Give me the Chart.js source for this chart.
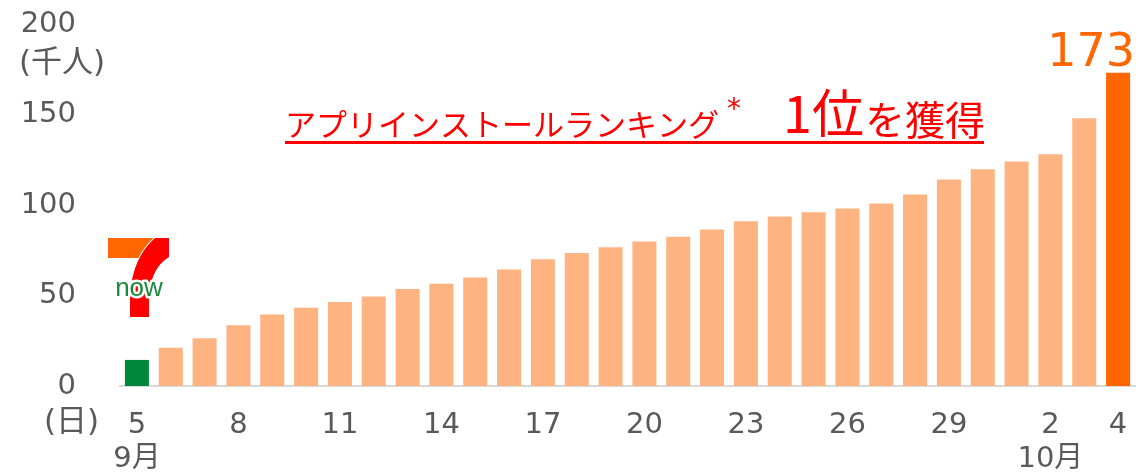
<!DOCTYPE html>
<html>
<head>
<meta charset="utf-8">
<script src="https://cdn.jsdelivr.net/npm/chart.js@4/dist/chart.umd.min.js"></script>
<style>
  body { margin: 0; background: #fff; }
  #wrap { width: 1140px; height: 476px; }
</style>
</head>
<body>
<div id="wrap"><canvas id="c" width="1140" height="476"></canvas></div>
<script>
// daily users (thousand), Sep 5 - Oct 4
const days = ['5', '6', '7', '8', '9', '10', '11', '12', '13', '14', '15', '16', '17', '18', '19',
    '20', '21', '22', '23', '24', '25', '26', '27', '28', '29', '30', '1', '2', '3', '4'];
const users = [14.4, 21.2, 26.4, 33.6, 39.5, 43.2, 46.4, 49.5, 53.6, 56.5, 60.0, 64.4, 70.0, 73.5, 76.6,
    79.8, 82.5, 86.4, 91.0, 93.6, 96.0, 98.1, 100.8, 105.8, 114.1, 119.7, 124.1, 128.0, 147.9, 173];
const monthRow = { 0: '9月', 27: '10月' };
const shownTicks = [0, 3, 6, 9, 12, 15, 18, 21, 24, 27, 29];
const yTicks = [0, 50, 100, 150, 200];

const GRAY = '#595959';
const NUM_FONT = '"DejaVu Sans", "Noto Sans CJK JP", sans-serif';
const JP_FONT = '"Noto Sans CJK JP", sans-serif';

const barColors = users.map((v, i) => {
    if (i === 0) return '#00873C';
    if (i === users.length - 1) return '#FF6600';
    return '#FFB381';
});

// extra texts and the logo
const extras = {
    id: 'extras',
    afterDatasetsDraw(chart) {
        const ctx = chart.ctx;
        ctx.save();

        // unit labels
        ctx.fillStyle = GRAY;
        ctx.textBaseline = 'middle';
        ctx.textAlign = 'left';
        ctx.font = '31px ' + NUM_FONT;
        ctx.fillText('(千人)', 19, 64);
        ctx.fillText('(日)', 44, 423);

        // value on last bar
        const meta = chart.getDatasetMeta(0);
        const last = meta.data[meta.data.length - 1];
        ctx.fillStyle = '#FF6600';
        ctx.textAlign = 'right';
        ctx.textBaseline = 'alphabetic';
        ctx.font = '46px ' + NUM_FONT;
        ctx.fillText(String(users[users.length - 1]), last.x + last.width / 2 + 5, last.y - 7);

        // headline
        ctx.fillStyle = '#FF0000';
        ctx.textAlign = 'left';
        const parts = [
            [285, 136, 'アプリインストールランキング', '31px ' + JP_FONT],
            [727, 118, '*', '28px "DejaVu Sans", sans-serif'],
            [783, 133, '1', '52px ' + JP_FONT],
            [812, 133, '位', '52px ' + JP_FONT],
            [865, 135, 'を獲得', '40px ' + JP_FONT]
        ];
        parts.forEach(([x, y, t, f]) => {
            ctx.font = f;
            ctx.fillText(t, x, y);
        });
        ctx.fillRect(285, 141, 699, 3);

        // 7now logo
        ctx.fillStyle = '#FF6600';
        ctx.fillRect(108, 238, 46, 20);
        ctx.beginPath();
        ctx.moveTo(155, 238);
        ctx.lineTo(169, 238);
        ctx.lineTo(169, 257);
        ctx.quadraticCurveTo(151, 268, 149, 296);
        ctx.lineTo(149, 317);
        ctx.lineTo(130, 317);
        ctx.lineTo(130, 294);
        ctx.quadraticCurveTo(133, 257, 155, 238);
        ctx.closePath();
        ctx.fillStyle = '#FF0000';
        ctx.strokeStyle = '#fff';
        ctx.lineWidth = 2;
        ctx.stroke();
        ctx.fill();
        ctx.font = '26px "Liberation Sans", sans-serif';
        ctx.textAlign = 'center';
        ctx.textBaseline = 'alphabetic';
        ctx.lineWidth = 5;
        ctx.lineJoin = 'round';
        ctx.strokeText('now', 139, 296);
        ctx.fillStyle = '#1A8A3A';
        ctx.fillText('now', 139, 296);

        ctx.restore();
    }
};

new Chart(document.getElementById('c'), {
    type: 'bar',
    data: {
        labels: days,
        datasets: [{
            data: users,
            backgroundColor: barColors,
            borderWidth: 0,
            barPercentage: 0.71,
            categoryPercentage: 1
        }]
    },
    options: {
        responsive: false,
        animation: false,
        layout: { padding: { top: 24, right: 5, left: 0, bottom: 0 } },
        plugins: { legend: { display: false }, tooltip: { enabled: false } },
        scales: {
            x: {
                grid: { display: false, drawTicks: false },
                border: { display: true, color: '#D9D9D9', width: 2 },
                afterFit: (s) => { s.height = 90; s.paddingLeft = 0; s.paddingRight = 0; },
                ticks: {
                    autoSkip: false,
                    maxRotation: 0,
                    padding: 23,
                    color: GRAY,
                    font: { family: NUM_FONT, size: 29, lineHeight: 1.15 },
                    callback: (val, i) => {
                        if (!shownTicks.includes(i)) return '';
                        return monthRow[i] ? [days[i], monthRow[i]] : days[i];
                    }
                }
            },
            y: {
                min: 0,
                max: 200,
                grid: { display: false, drawTicks: false },
                border: { display: false },
                afterFit: (s) => { s.width = 120; s.paddingTop = 17; s.paddingBottom = 17; },
                afterBuildTicks: (s) => { s.ticks = yTicks.map(v => ({ value: v })); },
                ticks: {
                    padding: 44,
                    color: GRAY,
                    font: { family: NUM_FONT, size: 29 }
                }
            }
        }
    },
    plugins: [extras]
});
</script>
</body>
</html>
